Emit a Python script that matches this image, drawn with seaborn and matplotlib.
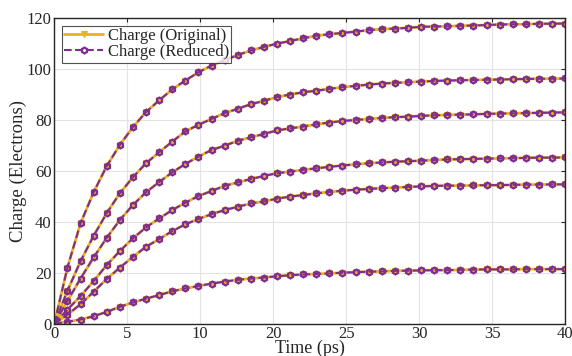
import numpy as np
import pandas as pd
import seaborn as sns
import matplotlib
matplotlib.use("Agg")
import matplotlib.pyplot as plt

# time grid (40 samples from 0 to 40 ps)
time_ps = np.linspace(0, 40, 40)

# charge curves (electrons)
charge_a = [0, 22.0, 39.4, 51.6, 61.9, 70.2, 77.2, 83.1, 87.7, 92.0,
            95.5, 98.7, 101.4, 103.5, 105.5, 107.3, 108.7, 110.0, 111.0, 112.1,
            113.1, 113.7, 114.2, 114.7, 115.3, 115.7, 115.9, 116.2, 116.6, 116.7,
            116.8, 117.0, 117.1, 117.3, 117.5, 117.6, 117.6, 117.8, 117.8, 117.9]
charge_b = [0, 12.9, 24.5, 34.5, 43.4, 51.2, 57.5, 63.0, 67.3, 71.5,
            75.5, 78.1, 80.4, 82.7, 84.4, 86.2, 87.5, 89.0, 90.0, 90.9,
            91.5, 92.2, 92.9, 93.4, 93.9, 94.3, 94.6, 94.8, 95.1, 95.3,
            95.5, 95.6, 95.7, 95.8, 95.9, 96.0, 96.1, 96.2, 96.2, 96.3]
charge_c = [0, 8.9, 17.7, 26.0, 33.7, 40.7, 46.6, 51.6, 55.6, 59.4,
            62.7, 65.6, 68.2, 69.9, 71.8, 73.2, 74.5, 75.9, 76.7, 77.4,
            78.3, 79.0, 79.6, 80.0, 80.4, 80.8, 81.1, 81.3, 81.6, 81.8,
            82.0, 82.1, 82.2, 82.4, 82.5, 82.6, 82.7, 82.8, 82.9, 83.0]
charge_d = [0, 5.5, 10.8, 16.7, 23.0, 28.5, 33.5, 37.8, 41.3, 44.6,
            47.5, 50.1, 52.1, 54.1, 55.5, 56.8, 58.0, 59.1, 59.7, 60.4,
            61.0, 61.6, 62.1, 62.6, 63.0, 63.3, 63.6, 63.8, 64.0, 64.3,
            64.5, 64.6, 64.7, 64.8, 64.9, 65.0, 65.1, 65.2, 65.2, 65.3]
charge_e = [0, 3.5, 7.6, 12.5, 17.5, 22.0, 26.2, 30.2, 33.2, 36.3,
            39.0, 41.1, 43.0, 44.6, 45.9, 47.2, 48.0, 49.1, 49.9, 50.5,
            51.2, 51.7, 52.2, 52.6, 52.9, 53.2, 53.4, 53.7, 53.9, 54.1,
            54.2, 54.2, 54.3, 54.4, 54.4, 54.5, 54.6, 54.6, 54.7, 54.7]
charge_f = [0, 0.7, 1.6, 2.9, 4.6, 6.6, 8.3, 9.8, 11.2, 12.7,
            13.8, 14.8, 15.7, 16.5, 17.2, 17.7, 18.1, 18.6, 19.0, 19.3,
            19.5, 19.7, 20.0, 20.2, 20.4, 20.5, 20.7, 20.8, 20.9, 21.0,
            21.0, 21.1, 21.2, 21.3, 21.3, 21.3, 21.4, 21.4, 21.4, 21.4]

curves = [charge_a, charge_b, charge_c, charge_d, charge_e, charge_f]

xtick_labels = ['0', '5', '10', '20', '25', '30', '35', '40']

ORANGE = '#EDB120'
PURPLE = '#7E2F8E'

sns.set_style("whitegrid")
plt.rcParams['font.family'] = ['Liberation Serif', 'DejaVu Serif']

fig = plt.figure(figsize=(5.72, 3.56), dpi=100)
ax = fig.add_axes([0.095, 0.091, 0.893, 0.858])

for i, vals in enumerate(curves):
    sns.lineplot(x=time_ps, y=vals, ax=ax, color=ORANGE, linewidth=2.0,
                 marker='v', markersize=5, markeredgecolor=ORANGE,
                 label='Charge (Original)' if i == 0 else None)
for i, vals in enumerate(curves):
    sns.lineplot(x=time_ps, y=vals, ax=ax, color=PURPLE, linewidth=1.5,
                 linestyle='--', marker='h', markersize=4.2,
                 markerfacecolor='none', markeredgecolor=PURPLE, markeredgewidth=1.6,
                 label='Charge (Reduced)' if i == 0 else None)

ax.set_xlim(0, 40)
ax.set_ylim(0, 120)
ax.set_xticks(np.linspace(0, 40, 8))
ax.set_xticklabels(xtick_labels)
ax.set_yticks([0, 20, 40, 60, 80, 100, 120])
ax.tick_params(axis='both', labelsize=12, direction='in', length=3,
               top=True, right=True, colors='#262626', pad=2)
ax.set_xlabel('Time (ps)', fontsize=13, labelpad=-2)
ax.set_ylabel('Charge (Electrons)', fontsize=13.5, labelpad=0)
ax.grid(True, color='#E3E3E3', linewidth=0.8)
for s in ax.spines.values():
    s.set_color('#262626')
    s.set_linewidth(1.0)

leg = ax.legend(loc='upper left', fontsize=12, frameon=True, fancybox=False,
                borderpad=0.15, labelspacing=0.0, handlelength=2.3,
                handletextpad=0.3, borderaxespad=0.45)
leg.get_frame().set_edgecolor('#262626')
leg.get_frame().set_linewidth(0.8)

fig.savefig('out.png', dpi=100)
